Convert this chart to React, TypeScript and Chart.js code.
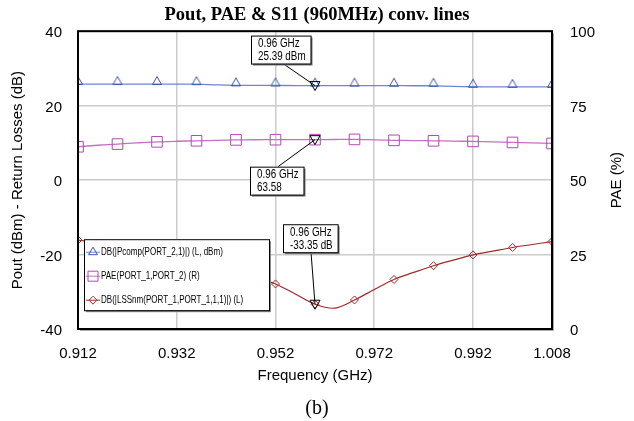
import React, { useEffect, useRef } from "react";
import { Chart, registerables } from "chart.js";

Chart.register(...registerables);

// Sweep frequencies (GHz) and the three simulated traces
const FREQ = [
  0.912, 0.916, 0.92, 0.924, 0.928, 0.932, 0.936, 0.94, 0.944, 0.948, 0.952, 0.956, 0.96,
  0.964, 0.968, 0.972, 0.976, 0.98, 0.984, 0.988, 0.992, 0.996, 1.0, 1.004, 1.008,
];
const POUT_DBM = [
  25.8, 25.8, 25.8, 25.8, 25.8, 25.8, 25.78, 25.6, 25.45, 25.44, 25.42, 25.4, 25.39,
  25.38, 25.38, 25.37, 25.36, 25.35, 25.33, 25.2, 25.08, 25.06, 25.05, 25.04, 25.03,
];
const PAE_PCT = [
  61.2, 61.7, 62.1, 62.5, 62.85, 63.05, 63.2, 63.35, 63.5, 63.55, 63.57, 63.58, 63.58,
  63.64, 63.66, 63.5, 63.35, 63.28, 63.2, 63.1, 63.0, 62.85, 62.65, 62.5, 62.3,
];
const S11_DB = [
  -16.1, -16.8, -17.6, -18.5, -19.5, -20.6, -21.8, -23.2, -24.6, -26.2, -27.9, -30.6, -33.35,
  -34.4, -32.2, -29.4, -26.7, -24.8, -23.0, -21.5, -20.1, -19.1, -18.1, -17.3, -16.5,
];

const X_TICKS = [0.912, 0.932, 0.952, 0.972, 0.992, 1.008];
const MARKER_FREQ = 0.96;
const SERIES_NAMES = [
  "DB(|Pcomp(PORT_2,1)|) (L, dBm)",
  "PAE(PORT_1,PORT_2) (R)",
  "DB(|LSSnm(PORT_1,PORT_1,1,1)|) (L)",
];
const TITLE = "Pout, PAE & S11 (960MHz) conv. lines";
const RIGHT_TITLE = "PAE (%)";

const SANS = "'Liberation Sans', Arial, sans-serif";
const SERIF = "'Liberation Serif', 'Times New Roman', serif";

const POUT_LINE = "#6d87c9";
const POUT_MARK = "#3c56ad";
const PAE_LINE = "#c173c1";
const PAE_MARK = "#b04cb0";
const S11_COLOR = "#a02a2a";

// only every other sweep point carries a symbol
const symbolRadius = (r: number) => FREQ.map((_, i) => (i % 2 === 0 ? r : 0));

const points = (vals: number[]) => FREQ.map((f, i) => ({ x: f, y: vals[i] }));

// open triangle whose base sits on the data point
function makeTriangleSprite(color: string) {
  const c = document.createElement("canvas");
  c.width = 12;
  c.height = 18;
  const g = c.getContext("2d")!;
  g.strokeStyle = color;
  g.lineWidth = 1;
  g.beginPath();
  g.moveTo(6, 1.5);
  g.lineTo(10.5, 9.5);
  g.lineTo(1.5, 9.5);
  g.closePath();
  g.stroke();
  return c;
}

function narrowText(ctx: CanvasRenderingContext2D, text: string, x: number, y: number, sx: number) {
  ctx.save();
  ctx.translate(x, y);
  ctx.scale(sx, 1);
  ctx.fillText(text, 0, 0);
  ctx.restore();
}

function shadowBox(ctx: CanvasRenderingContext2D, x: number, y: number, w: number, h: number) {
  ctx.fillStyle = "#8a8a8a";
  ctx.fillRect(x + 2, y + 2, w, h);
  ctx.fillStyle = "#ffffff";
  ctx.fillRect(x, y, w, h);
  ctx.strokeStyle = "#000";
  ctx.lineWidth = 1;
  ctx.strokeRect(x + 0.5, y + 0.5, w, h);
}

function drawSymbol(ctx: CanvasRenderingContext2D, kind: string, x: number, y: number, color: string) {
  ctx.strokeStyle = color;
  ctx.lineWidth = 1;
  ctx.beginPath();
  if (kind === "triangle") {
    ctx.moveTo(x, y - 5);
    ctx.lineTo(x + 4.5, y + 2.5);
    ctx.lineTo(x - 4.5, y + 2.5);
    ctx.closePath();
  } else if (kind === "rect") {
    ctx.rect(x - 5, y - 5, 10, 10);
  } else if (kind === "diamond") {
    ctx.moveTo(x, y - 4);
    ctx.lineTo(x + 4, y);
    ctx.lineTo(x, y + 4);
    ctx.lineTo(x - 4, y);
    ctx.closePath();
  } else if (kind === "down") {
    ctx.moveTo(x - 5, y - 4);
    ctx.lineTo(x + 5, y - 4);
    ctx.lineTo(x, y + 5);
    ctx.closePath();
  }
  ctx.stroke();
}

const overlayPlugin = {
  id: "overlay",
  afterDatasetsDraw(chart: any) {
    const { ctx, chartArea: a, scales } = chart;
    const xs = scales.x;
    const yl = scales.yL;
    const yr = scales.yR;
    ctx.save();

    // plot frame with a soft shadow on the right and bottom
    ctx.strokeStyle = "#a8a8a8";
    ctx.lineWidth = 1;
    ctx.beginPath();
    ctx.moveTo(a.right + 1.5, a.top + 2);
    ctx.lineTo(a.right + 1.5, a.bottom + 1.5);
    ctx.lineTo(a.left + 2, a.bottom + 1.5);
    ctx.stroke();
    ctx.strokeStyle = "#000";
    ctx.lineWidth = 2;
    ctx.strokeRect(a.left, a.top, a.right - a.left, a.bottom - a.top);

    // right axis title, read bottom-to-top
    ctx.save();
    ctx.translate(yr.right - 17, (a.top + a.bottom) / 2);
    ctx.rotate(-Math.PI / 2);
    ctx.font = `15px ${SANS}`;
    ctx.fillStyle = "#000";
    ctx.textAlign = "center";
    ctx.textBaseline = "middle";
    ctx.fillText(RIGHT_TITLE, 0, 0);
    ctx.restore();

    // readouts at the marker frequency
    const idx = FREQ.indexOf(MARKER_FREQ);
    const px = xs.getPixelForValue(MARKER_FREQ);
    const readouts = [
      { py: yl.getPixelForValue(POUT_DBM[idx]), lines: [`${MARKER_FREQ} GHz`, `${POUT_DBM[idx].toFixed(2)} dBm`], dx: -64, dy: -50, lead: [-32, "bottom"] },
      { py: yr.getPixelForValue(PAE_PCT[idx]), lines: [`${MARKER_FREQ} GHz`, `${PAE_PCT[idx].toFixed(2)}`], dx: -65, dy: 27, lead: [-37, "top"] },
      { py: yl.getPixelForValue(S11_DB[idx]), lines: [`${MARKER_FREQ} GHz`, `${S11_DB[idx].toFixed(2)} dB`], dx: -32, dy: -80, lead: [-4, "bottom"] },
    ];
    ctx.font = `12px ${SANS}`;
    for (const r of readouts) {
      const bx = px + r.dx;
      const by = r.py + r.dy;
      const w = Math.max(...r.lines.map((t) => ctx.measureText(t).width * 0.82)) + 12;
      const h = 28;
      const lx = px + (r.lead[0] as number);
      const ly = r.lead[1] === "bottom" ? by + h : by;
      ctx.strokeStyle = "#000";
      ctx.lineWidth = 1;
      ctx.beginPath();
      ctx.moveTo(lx, ly);
      ctx.lineTo(px, r.py);
      ctx.stroke();
      drawSymbol(ctx, "down", px, r.py, "#000");
      shadowBox(ctx, bx, by, w, h);
      ctx.fillStyle = "#000";
      ctx.textBaseline = "middle";
      ctx.textAlign = "left";
      narrowText(ctx, r.lines[0], bx + 7, by + 8.5, 0.82);
      narrowText(ctx, r.lines[1], bx + 7, by + 21, 0.82);
    }

    // legend box
    const lx0 = a.left + 6;
    const ly0 = a.top + 208;
    shadowBox(ctx, lx0, ly0, 185, 71);
    const entries = [
      { color: POUT_MARK, line: POUT_LINE, kind: "triangle" },
      { color: PAE_MARK, line: PAE_LINE, kind: "rect" },
      { color: S11_COLOR, line: S11_COLOR, kind: "diamond" },
    ];
    ctx.font = `11px ${SANS}`;
    entries.forEach((e, i) => {
      const cy = ly0 + 13 + i * 24;
      ctx.strokeStyle = e.line;
      ctx.lineWidth = 1;
      ctx.beginPath();
      ctx.moveTo(lx0 + 2, cy);
      ctx.lineTo(lx0 + 16, cy);
      ctx.stroke();
      drawSymbol(ctx, e.kind, lx0 + 9, cy, e.color);
      ctx.fillStyle = "#000";
      ctx.textBaseline = "middle";
      narrowText(ctx, SERIES_NAMES[i], lx0 + 17, cy, 0.73);
    });

    ctx.restore();
  },
};

export default function App() {
  const canvasRef = useRef<HTMLCanvasElement | null>(null);

  useEffect(() => {
    const canvas = canvasRef.current;
    if (!canvas) return;
    Chart.defaults.font.family = SANS;
    const tri = makeTriangleSprite(POUT_MARK);
    const chart = new Chart(canvas, {
      type: "line",
      data: {
        datasets: [
          {
            label: SERIES_NAMES[0],
            data: points(POUT_DBM),
            yAxisID: "yL",
            borderColor: POUT_LINE,
            borderWidth: 1.3,
            pointStyle: FREQ.map((_, i) => (i % 2 === 0 ? tri : false)),
            pointRadius: symbolRadius(5),
            pointBorderColor: POUT_MARK,
            pointBackgroundColor: "rgba(0,0,0,0)",
            pointBorderWidth: 1,
            tension: 0.3,
          },
          {
            label: SERIES_NAMES[1],
            data: points(PAE_PCT),
            yAxisID: "yR",
            borderColor: PAE_LINE,
            borderWidth: 1.3,
            pointStyle: "rect",
            pointRadius: symbolRadius(7.5),
            pointBorderColor: PAE_MARK,
            pointBackgroundColor: "rgba(0,0,0,0)",
            pointBorderWidth: 1,
            tension: 0.3,
          },
          {
            label: SERIES_NAMES[2],
            data: points(S11_DB),
            yAxisID: "yL",
            borderColor: S11_COLOR,
            borderWidth: 1.2,
            pointStyle: "rectRot",
            pointRadius: symbolRadius(4),
            pointBorderColor: S11_COLOR,
            pointBackgroundColor: "rgba(0,0,0,0)",
            pointBorderWidth: 1,
            tension: 0.35,
          },
        ],
      },
      options: {
        responsive: false,
        animation: false,
        devicePixelRatio: 1,
        layout: { padding: 0 },
        plugins: {
          legend: { display: false },
          tooltip: { enabled: false },
          title: {
            display: true,
            text: TITLE,
            color: "#000",
            font: { family: SERIF, size: 18.5, weight: "bold" },
            padding: { top: 4, bottom: 5 },
          },
          subtitle: {
            display: true,
            position: "bottom",
            text: "(b)",
            color: "#000",
            font: { family: SERIF, size: 20, weight: "normal" },
            padding: { top: 4, bottom: 0 },
          },
        },
        scales: {
          x: {
            type: "linear",
            min: 0.912,
            max: 1.008,
            afterBuildTicks: (s: any) => {
              s.ticks = X_TICKS.map((v) => ({ value: v }));
            },
            afterFit: (s: any) => {
              s.height = 64;
            },
            ticks: {
              color: "#000",
              font: { size: 15 },
              padding: 16,
              maxRotation: 0,
              autoSkip: false,
              callback: (v: any) => Number(v).toFixed(3),
            },
            grid: { color: "#cbcbcb", lineWidth: 1.5, drawTicks: false },
            border: { display: false },
            title: {
              display: true,
              text: "Frequency (GHz)",
              color: "#000",
              font: { size: 15 },
              padding: { top: 0, bottom: 8 },
            },
          },
          yL: {
            type: "linear",
            position: "left",
            min: -40,
            max: 40,
            afterFit: (s: any) => {
              s.width = 78;
            },
            ticks: { stepSize: 20, color: "#000", font: { size: 15 }, padding: 16, labelOffset: 2 },
            grid: { color: "#cbcbcb", lineWidth: 1.5, drawTicks: false },
            border: { display: false },
            title: {
              display: true,
              text: "Pout (dBm) - Return Losses (dB)",
              color: "#000",
              font: { size: 15 },
              padding: { top: 9, bottom: 0 },
            },
          },
          yR: {
            type: "linear",
            position: "right",
            min: 0,
            max: 100,
            afterFit: (s: any) => {
              s.width = 82;
            },
            ticks: { stepSize: 25, color: "#000", font: { size: 15 }, padding: 18, labelOffset: 2 },
            grid: { drawOnChartArea: false, drawTicks: false },
            border: { display: false },
            title: { display: false },
          },
        },
      },
      plugins: [overlayPlugin],
    } as any);
    return () => chart.destroy();
  }, []);

  return (
    <div style={{ position: "fixed", left: 0, top: 0, width: 634, height: 421, background: "#fff" }}>
      <canvas ref={canvasRef} width={634} height={421} style={{ display: "block", width: 634, height: 421 }} />
    </div>
  );
}
